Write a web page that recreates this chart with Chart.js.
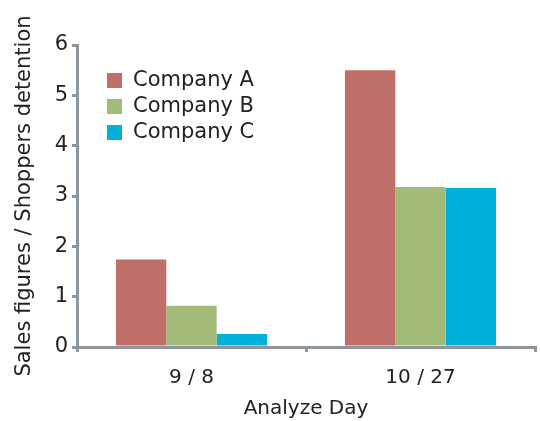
<!DOCTYPE html>
<html>
<head>
<meta charset="utf-8">
<script src="https://cdn.jsdelivr.net/npm/chart.js@4/dist/chart.umd.min.js"></script>
<style>
  html, body { margin: 0; padding: 0; background: #fff; }
  #wrap { width: 540px; height: 421px; }
</style>
</head>
<body>
<div id="wrap"><canvas id="c" width="540" height="421"></canvas></div>
<script>
const days = ['9 / 8', '10 / 27'];
const companyA = [1.74, 5.5];
const companyB = [0.82, 3.18];
const companyC = [0.26, 3.16];
const seriesNames = ['Company A', 'Company B', 'Company C'];
const seriesColors = ['#c06e68', '#a3bb78', '#00b0d8'];

const FONT = 'DejaVu Sans, Verdana, sans-serif';
const AXIS = '#8e969b';

// Legend drawn inside the plot area, top-left
const innerLegend = {
  id: 'innerLegend',
  afterDraw(chart) {
    const ctx = chart.ctx;
    const x0 = chart.chartArea.left + 30;
    let y = 80;
    ctx.save();
    ctx.font = '21px ' + FONT;
    ctx.textBaseline = 'middle';
    chart.data.datasets.forEach(ds => {
      ctx.fillStyle = ds.backgroundColor;
      ctx.fillRect(x0, y - 7, 15, 15);
      ctx.fillStyle = '#222';
      ctx.fillText(ds.label, x0 + 26, y + 1);
      y += 26;
    });
    ctx.restore();
  }
};

new Chart(document.getElementById('c'), {
  type: 'bar',
  data: {
    labels: days,
    datasets: [
      { label: seriesNames[0], data: companyA, backgroundColor: seriesColors[0] },
      { label: seriesNames[1], data: companyB, backgroundColor: seriesColors[1] },
      { label: seriesNames[2], data: companyC, backgroundColor: seriesColors[2] }
    ]
  },
  options: {
    responsive: false,
    animation: false,
    layout: { padding: { top: 45, right: 5, left: 0, bottom: 0 } },
    datasets: { bar: { categoryPercentage: 0.66, barPercentage: 1.0 } },
    plugins: { legend: { display: false }, tooltip: { enabled: false } },
    scales: {
      x: {
        border: { color: AXIS, width: 3 },
        grid: { drawOnChartArea: false, drawTicks: true, tickLength: 5, color: AXIS, lineWidth: 3, offset: true },
        ticks: { color: '#222', font: { family: FONT, size: 20 }, padding: 14 },
        title: { display: true, text: 'Analyze Day', color: '#222', font: { family: FONT, size: 20 }, padding: { top: 2, bottom: 0 } },
        afterFit: s => { s.height = 74; }
      },
      y: {
        min: 0, max: 6,
        border: { color: AXIS, width: 3 },
        grid: { drawOnChartArea: false, drawTicks: true, tickLength: 5, color: AXIS, lineWidth: 3 },
        ticks: { stepSize: 1, color: '#222', font: { family: FONT, size: 21 }, padding: 4 },
        title: { display: true, text: 'Sales figures / Shoppers detention', color: '#222', font: { family: FONT, size: 21 }, padding: { top: 12, bottom: 4 } },
        afterFit: s => { s.width = 77; }
      }
    }
  },
  plugins: [innerLegend]
});
</script>
</body>
</html>
